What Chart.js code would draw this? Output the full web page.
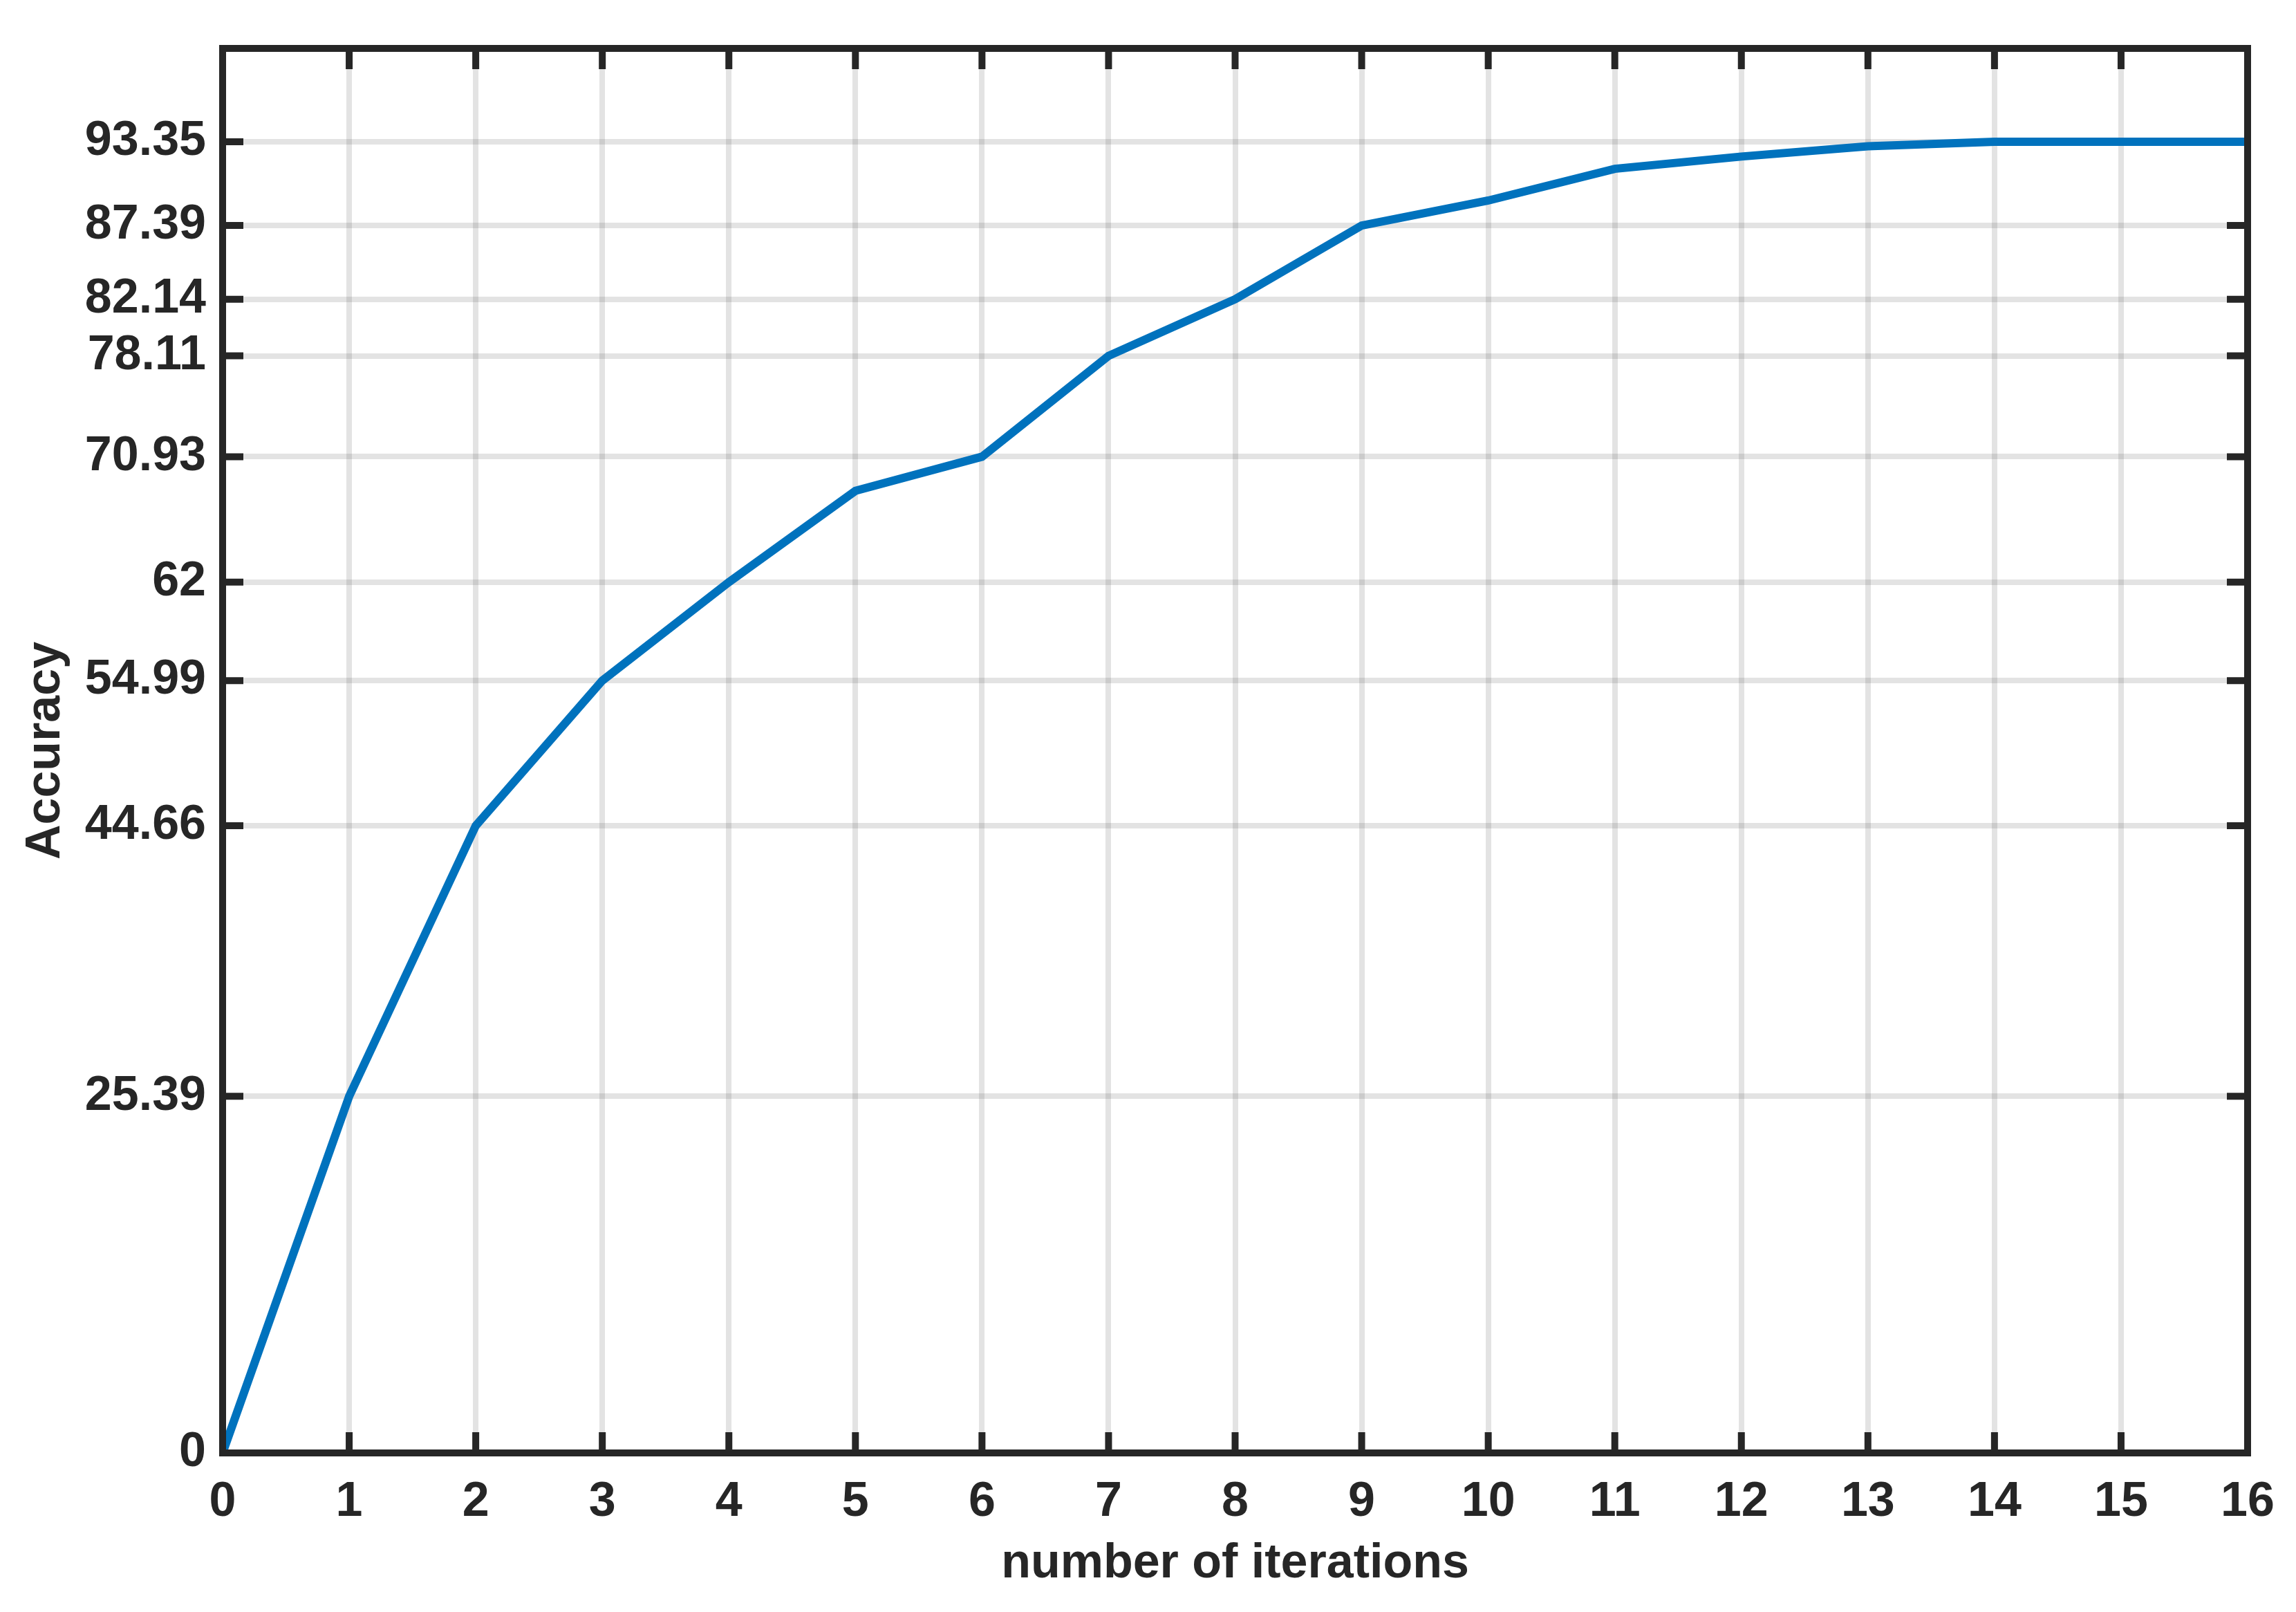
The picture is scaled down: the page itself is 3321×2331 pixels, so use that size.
<!DOCTYPE html>
<html>
<head>
<meta charset="utf-8">
<script src="https://cdn.jsdelivr.net/npm/chart.js@4.4.1/dist/chart.umd.min.js"></script>
<style>
  html, body { margin: 0; padding: 0; background: #fff; }
  canvas { display: block; }
</style>
</head>
<body>
<canvas id="myChart" width="3321" height="2331"></canvas>
<script>
// values
const iterations = [0, 1, 2, 3, 4, 5, 6, 7, 8, 9, 10, 11, 12, 13, 14, 15, 16];
const accuracy = [0, 25.39, 44.66, 54.99, 62, 68.5, 70.93, 78.11, 82.14, 87.39, 89.17, 91.43, 92.3, 93.03, 93.35, 93.35, 93.35];
const yTicks = [0, 25.39, 44.66, 54.99, 62, 70.93, 78.11, 82.14, 87.39, 93.35];
const xTicks = iterations;

const axisColor = '#262626';
const tickLen = 30;

Chart.defaults.font.family = '"Liberation Sans", Arial, sans-serif';
Chart.defaults.font.weight = 'bold';
Chart.defaults.font.size = 70;
Chart.defaults.color = axisColor;

// inward ticks on all four sides (under the line), box on top
const boxPlugin = {
  id: 'box',
  beforeDatasetsDraw(chart) {
    const ctx = chart.ctx;
    const a = chart.chartArea;
    const x = chart.scales.x;
    const y = chart.scales.y;
    ctx.save();
    ctx.strokeStyle = axisColor;
    ctx.lineWidth = 10;
    ctx.beginPath();
    x.ticks.forEach(t => {
      const px = x.getPixelForValue(t.value);
      ctx.moveTo(px, a.bottom);
      ctx.lineTo(px, a.bottom - tickLen);
      ctx.moveTo(px, a.top);
      ctx.lineTo(px, a.top + tickLen);
    });
    y.ticks.forEach(t => {
      const py = y.getPixelForValue(t.value);
      ctx.moveTo(a.left, py);
      ctx.lineTo(a.left + tickLen, py);
      ctx.moveTo(a.right, py);
      ctx.lineTo(a.right - tickLen, py);
    });
    ctx.stroke();
    ctx.restore();
  },
  afterDatasetsDraw(chart) {
    const ctx = chart.ctx;
    const a = chart.chartArea;
    ctx.save();
    ctx.strokeStyle = axisColor;
    ctx.lineWidth = 10;
    ctx.strokeRect(a.left, a.top, a.right - a.left, a.bottom - a.top);
    ctx.restore();
  }
};

const ctx = document.getElementById('myChart').getContext('2d');
let myChart = new Chart(ctx, {
  type: 'line',
  data: {
    datasets: [
      {
        label: 'Accuracy',
        data: iterations.map((it, i) => ({ x: it, y: accuracy[i] })),
        borderColor: '#0072BD',
        borderWidth: 12,
        pointRadius: 0,
        tension: 0,
        fill: false
      }
    ]
  },
  options: {
    responsive: false,
    devicePixelRatio: 1,
    animation: false,
    layout: { padding: { top: 70, right: 70, left: 0, bottom: 0 } },
    plugins: {
      legend: { display: false },
      tooltip: { enabled: false }
    },
    scales: {
      x: {
        type: 'linear',
        min: 0,
        max: 16,
        afterBuildTicks: s => { s.ticks = xTicks.map(v => ({ value: v })); },
        afterFit: s => { s.height = 230; },
        ticks: { autoSkip: false, maxRotation: 0, padding: 30 },
        grid: { color: 'rgba(38,38,38,0.13)', lineWidth: 8, drawTicks: false },
        border: { display: false },
        title: { display: true, text: 'number of iterations', padding: { top: 0, bottom: 27 } }
      },
      y: {
        type: 'linear',
        min: 0,
        max: 100,
        afterBuildTicks: s => { s.ticks = yTicks.map(v => ({ value: v })); },
        afterFit: s => { s.width = 322; },
        ticks: { autoSkip: false, padding: 24, callback: v => String(v) },
        grid: { color: 'rgba(38,38,38,0.13)', lineWidth: 8, drawTicks: false },
        border: { display: false },
        title: { display: true, text: 'Accuracy', padding: { top: 25, bottom: 0 } }
      }
    }
  },
  plugins: [boxPlugin]
});
</script>
</body>
</html>
